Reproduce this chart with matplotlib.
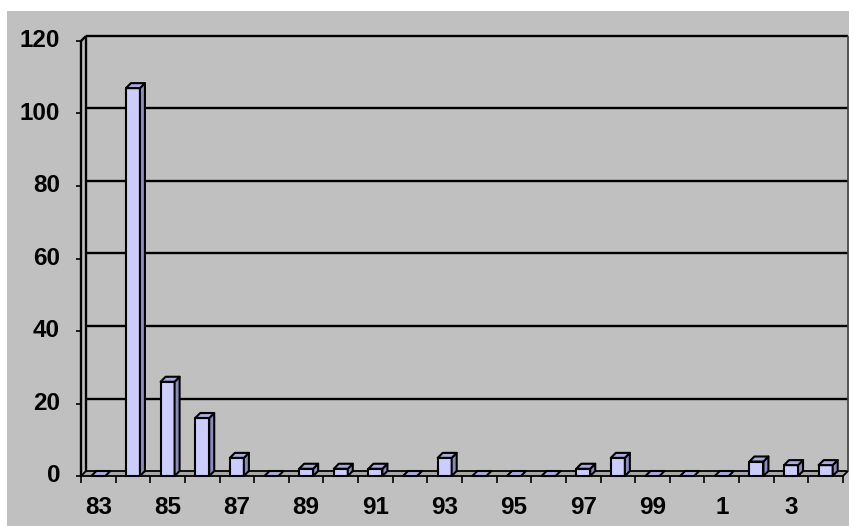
import matplotlib
matplotlib.use("Agg")
import matplotlib.pyplot as plt
from matplotlib.patches import Polygon

years = ["83", "84", "85", "86", "87", "88", "89", "90", "91", "92", "93",
         "94", "95", "96", "97", "98", "99", "0", "1", "2", "3", "4"]
counts = [0, 107, 26, 16, 5, 0, 2, 2, 2, 0, 5,
          0, 0, 0, 2, 5, 0, 0, 0, 4, 3, 3]
y_ticks = [0, 20, 40, 60, 80, 100, 120]

W, H = 849, 526
fig = plt.figure(figsize=(W / 100, H / 100), dpi=100)
fig.patch.set_facecolor("white")
# grey chart area inside a thin white margin
fig.add_artist(plt.Rectangle((7 / W, 0), 1 - 7 / W, 1 - 11 / H,
                             transform=fig.transFigure, facecolor="#C0C0C0",
                             edgecolor="none", zorder=0))

x0, x1, ytop, ybot = 81, 843, 41, 476
ax = fig.add_axes([x0 / W, 1 - ybot / H, (x1 - x0) / W, (ybot - ytop) / H])
ax.set_xlim(0, len(years))
ax.set_ylim(0, 120)
ax.axis("off")
ax.patch.set_alpha(0)

n = len(years)
px_x = (x1 - x0) / n
px_y = (ybot - ytop) / 120
dx = 5 / px_x       # depth offset in data units
dy = 5 / px_y
lw = 1.7

def line(xs, ys, color="black", w=lw, z=2):
    ax.plot(xs, ys, color=color, lw=w, clip_on=False, zorder=z,
            solid_capstyle="butt")

# floor
ax.add_patch(Polygon([(0, 0), (n, 0), (n + dx, dy), (dx, dy)], closed=True,
                     facecolor="#A8A8A8", edgecolor="black", lw=1.3,
                     clip_on=False, zorder=1))

# gridlines on the back wall
for v in y_ticks[1:]:
    line([dx, n + dx], [v + dy, v + dy], z=1)
# walls
line([0, 0], [0, 120])
line([dx, dx], [dy, 120 + dy])
line([0, dx], [120, 120 + dy])
line([n + dx, n + dx], [dy, 120 + dy], color="#404040", w=1.2, z=1)

font = dict(fontsize=17.5, fontweight="bold", family="Liberation Sans")

# y ticks and labels
for v in y_ticks:
    line([-5 / px_x, 0], [v, v], w=1.2)
    ax.text(-21 / px_x, v, str(v), ha="right", va="center", **font)

# x ticks at category boundaries, labels every other year
for i in range(n + 1):
    line([i, i], [0, -7 / px_y], w=1.2)
for i, lab in enumerate(years):
    if i % 2 == 0:
        ax.text(i + 0.5, -32 / px_y, lab, ha="center", va="center", **font)

# 3D bars
bw = 14 / px_x
for i, v in enumerate(counts):
    l = i + 0.5 - bw / 2
    r = l + bw
    kw = dict(closed=True, edgecolor="black", lw=1.5, clip_on=False, zorder=3,
              joinstyle="round")
    if v > 0:
        ax.add_patch(Polygon([(l, 0), (r, 0), (r, v), (l, v)],
                             facecolor="#CCCCFF", **kw))
        ax.add_patch(Polygon([(r, 0), (r + dx, dy), (r + dx, v + dy), (r, v)],
                             facecolor="#8C8CBC", **kw))
    ax.add_patch(Polygon([(l, v), (r, v), (r + dx, v + dy), (l + dx, v + dy)],
                         facecolor="#AAAADD", **kw))

fig.savefig("out.png", dpi=100, facecolor=fig.get_facecolor())
